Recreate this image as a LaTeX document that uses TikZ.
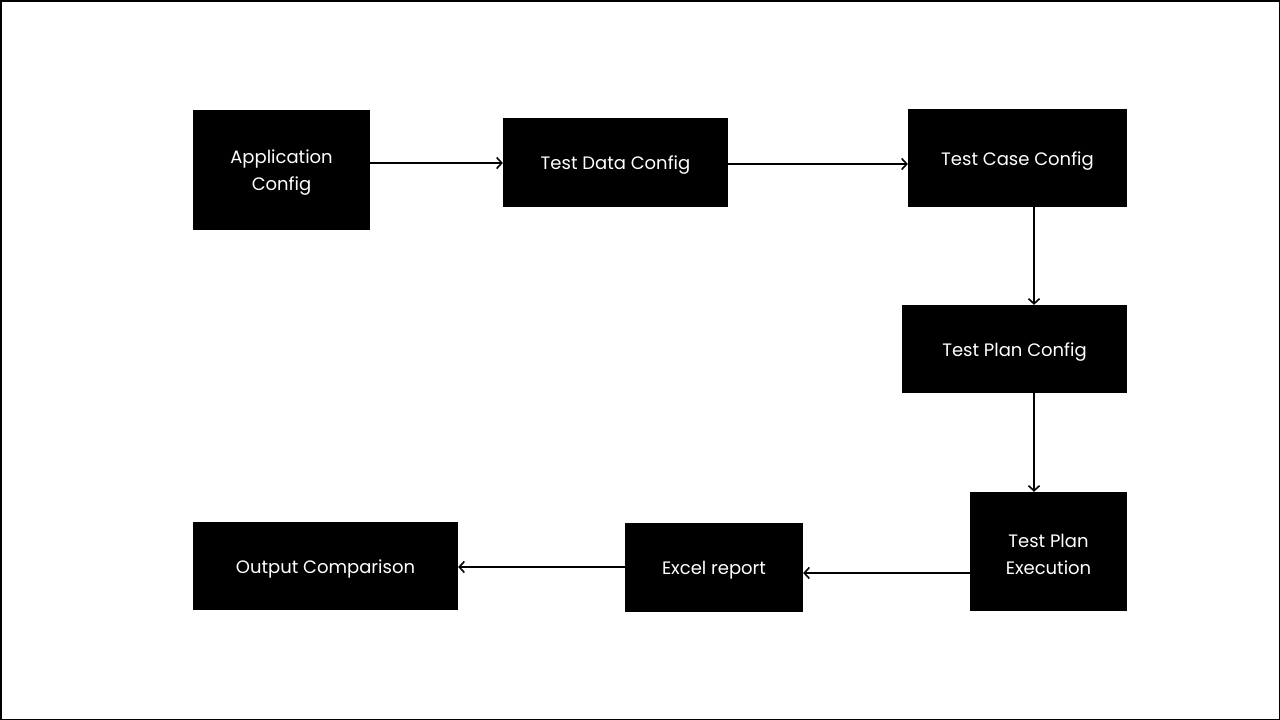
\documentclass[tikz,border=0pt]{standalone}
\usepackage{fontspec}
\setmainfont{Poppins}
\usetikzlibrary{arrows.meta}
\begin{document}
\begin{tikzpicture}[x=1pt,y=-1pt,
  box/.style={fill=black,draw=none,inner sep=0pt},
  lbl/.style={text=white,align=center,inner sep=0pt,yshift=-3pt,
    font=\fontsize{18}{27}\selectfont},
  conn/.style={draw=black,line width=2pt,-{Straight Barb[length=5pt,width=11pt,line width=1.6pt]}}]
\draw[line width=1.5pt] (0.75,0.75) rectangle (1279.25,719.25);
\useasboundingbox (0,0) rectangle (1280,720);
\node[box,minimum width=177pt,minimum height=120pt] (app) at (281.5,170) {};
\node[box,minimum width=225pt,minimum height=89pt] (tdc) at (615.5,162.5) {};
\node[box,minimum width=219pt,minimum height=98pt] (tcc) at (1017.5,158) {};
\node[box,minimum width=225pt,minimum height=88pt] (tpc) at (1014.5,349) {};
\node[box,minimum width=157pt,minimum height=119pt] (tpe) at (1048.5,551.5) {};
\node[box,minimum width=178pt,minimum height=89pt] (xl) at (714,567.5) {};
\node[box,minimum width=265pt,minimum height=88pt] (out) at (325.5,566) {};
\node[lbl] (appt) at (app.center) {Application\\Config};
\node[lbl] (tdct) at (tdc.center) {Test Data Config};
\node[lbl] (tcct) at (tcc.center) {Test Case Config};
\node[lbl] (tpct) at (tpc.center) {Test Plan Config};
\node[lbl] (tpet) at (tpe.center) {Test Plan\\Execution};
\node[lbl] (xlt) at (xl.center) {Excel report};
\node[lbl] (outt) at (out.center) {Output Comparison};
\draw[conn] ([yshift=-0.5pt]app.east |- tdc.west) -- ([yshift=-0.5pt]tdc.west);
\draw[conn] ([yshift=-1.5pt]tdc.east) -- ([yshift=-1.5pt]tdc.east -| tcc.west);
\draw[conn] ([xshift=16.5pt]tcc.south) -- ([xshift=19.5pt]tpc.north);
\draw[conn] ([xshift=19.5pt]tpc.south) -- ([xshift=-14.5pt]tpe.north);
\draw[conn] ([yshift=-21.5pt]tpe.west) -- ([yshift=-5.5pt]xl.east);
\draw[conn] ([yshift=0.5pt]xl.west) -- ([yshift=0.5pt]xl.west -| out.east);
\end{tikzpicture}
\end{document}
